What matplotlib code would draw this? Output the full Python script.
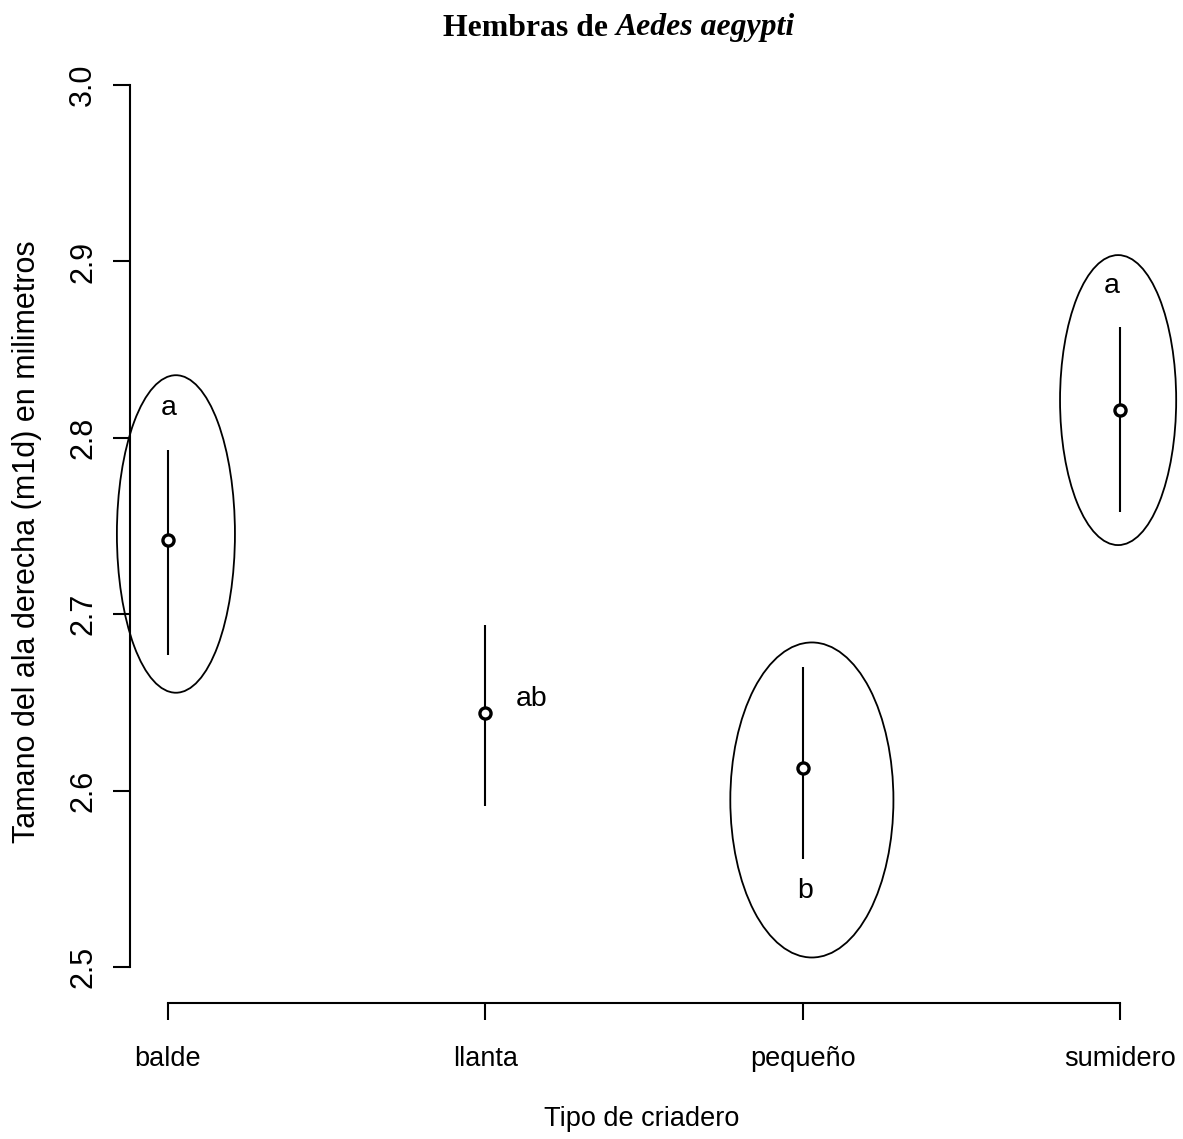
import matplotlib
matplotlib.use("Agg")
import matplotlib.pyplot as plt
from matplotlib.patches import Ellipse

# ---- data ----
categories = ["balde", "llanta", "pequeño", "sumidero"]
means = [2.742, 2.644, 2.613, 2.816]
lower = [2.677, 2.591, 2.561, 2.758]
upper = [2.793, 2.694, 2.670, 2.863]
letters = ["a", "ab", "b", "a"]
letter_x = [1.003, 2.145, 3.007, 3.975]
letter_y = [2.817, 2.652, 2.543, 2.886]
# ellipses (groups circled): center x, center y, width, height
ell_cx = [1.025, 3.029, 3.994]
ell_cy = [2.7455, 2.5947, 2.8214]
ell_w = [0.372, 0.514, 0.366]
ell_h = [0.180, 0.1786, 0.1644]
yticks = [2.5, 2.6, 2.7, 2.8, 2.9, 3.0]
title_plain = "Hembras de "
title_italic = "Aedes aegypti"

W, H = 1183, 1139
fig = plt.figure(figsize=(W / 100, H / 100), dpi=100)
plt.rcParams['font.family'] = ['Liberation Sans', 'DejaVu Sans']

left_px, right_px, top_px, bot_px = 130, 1183, 60, 1003
ax = fig.add_axes([left_px / W, 1 - bot_px / H, (right_px - left_px) / W, (bot_px - top_px) / H])

xpos = list(range(1, len(categories) + 1))
ax.set_xlim(0.8803, 4.1985)
ax.set_ylim(2.4796, 3.0142)

lw = 1.5
for i, x in enumerate(xpos):
    ax.plot([x, x], [lower[i], upper[i]], color='black', lw=lw, solid_capstyle='butt', zorder=3)
ax.plot(xpos, means, linestyle='none', marker='o', markersize=8, markerfacecolor='white',
        markeredgecolor='black', markeredgewidth=2.4, zorder=4)

for k in range(len(ell_cx)):
    e = Ellipse((ell_cx[k], ell_cy[k]), ell_w[k], ell_h[k], fill=False, edgecolor='black',
                lw=1.3, zorder=2, clip_on=False)
    ax.add_patch(e)

for i in range(len(categories)):
    ax.text(letter_x[i], letter_y[i], letters[i], fontsize=20.5, ha='center', va='center', color='black')

for s in ['top', 'right']:
    ax.spines[s].set_visible(False)
ax.spines['left'].set_bounds(2.5, 3.0)
ax.spines['bottom'].set_bounds(1, 4)
ax.spines['left'].set_linewidth(lw)
ax.spines['bottom'].set_linewidth(lw)

ax.set_xticks(xpos)
ax.set_xticklabels(categories, fontsize=19.5)
ax.set_yticks(yticks)
ax.set_yticklabels([f"{v:.1f}" for v in yticks], fontsize=22, rotation=90, va='center')
ax.tick_params(axis='both', direction='out', length=12, width=lw, color='black')
ax.tick_params(axis='x', pad=19)
ax.tick_params(axis='y', pad=11)

fig.text(27 / W, 1 - 542 / H, "Tamano del ala derecha (m1d) en milimetros", rotation=90,
         fontsize=22, ha='center', va='center')
fig.text(642 / W, 1 - 1119 / H, "Tipo de criadero", fontsize=19.5, ha='center', va='center')

# title: bold serif + bold italic serif, centered on x=619 px, total width ~352 px
fs = 20
t1 = fig.text(0, 1 - 28 / H, title_plain, fontsize=fs, family='Liberation Serif',
              weight='bold', ha='left', va='center')
t2 = fig.text(0, 1 - 28 / H, title_italic, fontsize=fs, family='Liberation Serif',
              weight='bold', style='italic', ha='left', va='center')
fig.canvas.draw()
r = fig.canvas.get_renderer()
w1 = t1.get_window_extent(r).width
w2 = t2.get_window_extent(r).width
scale = 352.0 / (w1 + w2)
fs2 = fs * scale
t1.set_fontsize(fs2)
t2.set_fontsize(fs2)
fig.canvas.draw()
w1 = t1.get_window_extent(r).width
w2 = t2.get_window_extent(r).width
x0 = 619 - (w1 + w2) / 2
t1.set_x(x0 / W)
t2.set_x((x0 + w1) / W)

fig.savefig("out.png", dpi=100)
